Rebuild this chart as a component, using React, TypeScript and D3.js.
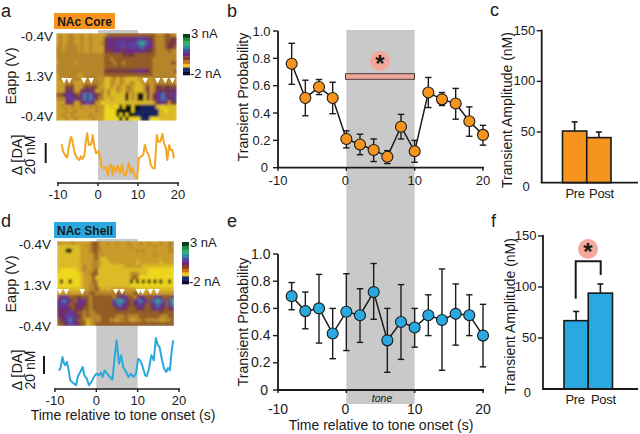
import React from "react";
import * as d3 from "d3";

const FONT = "'Liberation Sans', Arial, sans-serif";
const ORANGE = "#f7941d";
const BLUE = "#29a9e0";
const GREY = "#c9c9c9";
const INK = "#1a1a1a";

const times = [-8, -6, -4, -2, 0, 2, 4, 6, 8, 10, 12, 14, 16, 18, 20];
const coreMean = [0.76, 0.51, 0.59, 0.51, 0.21, 0.17, 0.13, 0.08, 0.3, 0.12, 0.55, 0.5, 0.47, 0.34, 0.24];
const coreHi = [0.91, 0.64, 0.645, 0.625, 0.27, 0.245, 0.21, 0.125, 0.39, 0.2, 0.66, 0.55, 0.58, 0.445, 0.31];
const coreLo = [0.61, 0.38, 0.535, 0.395, 0.145, 0.095, 0.045, 0.03, 0.21, 0.04, 0.44, 0.455, 0.355, 0.23, 0.165];
const shellMean = [0.69, 0.58, 0.6, 0.415, 0.575, 0.55, 0.72, 0.365, 0.5, 0.46, 0.55, 0.515, 0.56, 0.55, 0.4];
const shellHi = [0.79, 0.72, 0.85, 0.6, 0.855, 0.745, 0.93, 0.6, 0.775, 0.6, 0.7, 0.89, 0.78, 0.7, 0.63];
const shellLo = [0.59, 0.45, 0.345, 0.23, 0.29, 0.35, 0.52, 0.13, 0.225, 0.315, 0.4, 0.145, 0.33, 0.4, 0.17];

const groups = ["Pre", "Post"];
const coreAmp = [51, 44.5];
const coreAmpErr = [60, 50];
const shellAmp = [67, 94];
const shellAmpErr = [76, 103];

const traceCoreT = [-9.1,-8.7,-8,-7.7,-7.3,-6.8,-6.5,-6.2,-5.8,-5.2,-4.7,-4.3,-3.9,-3.4,-3.1,-2.7,-2.3,-1.7,-1.3,-0.9,-0.5,0.1,0.5,0.9,1.5,2,2.5,2.8,3.3,3.6,4,4.5,4.9,5.5,6,6.5,7,7.7,8.2,8.6,9.2,9.8,10.2,10.7,11.3,11.7,12.2,12.7,13.2,13.7,14.2,14.7,15.1,15.6,16.1,16.5,17,17.3,17.8,18.2,18.6,19];
const traceCoreV = [35.7,28.3,23.3,22.7,33.3,43,41,34.3,26.7,21.7,20,23.7,21,24.3,36.7,46.7,35,35.7,45,33.3,26.7,29,23.3,13.3,11.7,12.3,5,13.3,15.7,5,13.3,8.3,14.3,6.7,15.7,5,5,16.7,6.7,11.7,5,1.7,21.7,23.3,25,35,28.3,25,15,11.7,11.7,45,38.3,38.3,46.3,36.7,31.7,20,35,30,30,21.7];
const traceShellT = [-9.1,-8.7,-8.2,-7.8,-7.5,-7.1,-6.7,-6.3,-5.7,-4.9,-4.5,-3.9,-3.3,-2.9,-2.3,-1.8,-1.2,-0.6,0,0.6,1.1,1.5,2,2.6,3.3,3.9,4.4,4.9,5.5,6,6.5,7.2,7.8,8.3,9,9.6,10.1,10.6,11.1,11.8,12.2,12.7,13.3,13.9,14.4,14.9,15.3,15.9,16.4,16.9,17.3,17.8,18.2,18.6];
const traceShellV = [16.7,18.3,30,23.3,21.7,25,16.7,6.7,4.3,1.7,10,15,20,11.7,8.3,1.7,5,10,13.3,11.7,14.3,10,16.7,13.3,10,7.3,28.3,46.7,23.3,31.7,20,15,10,13.3,10,13.3,28.3,26.7,21.7,11.7,11,17.7,31.7,26.7,49,41.7,40,26.7,18.3,15,19,16.7,35,46.7];

const coreArrows = [-8.5, -7.2, -3.5, -1.7, 11.8, 14.9, 16.8, 18.6];
const shellArrows = [-8.8, -7.3, -3.4, 4.7, 6.2, 10.2, 11.2, 13.1, 14.7];

const heatColors: Record<string, string> = {
  k: "#08080f", n: "#17205e", Y: "#efd81f", y: "#dcbc26", l: "#c99c2c", o: "#b5852c",
  b: "#925c28", r: "#73393e", p: "#6a2a84", v: "#5a409f", t: "#3b7fab", g: "#2faa7c",
};
const colorbarColors = ["#0b3d1e", "#1f8a3c", "#2fae6a", "#2e8f9e", "#4a4fa0", "#6a2a84", "#8a3b2c", "#c8701e", "#eec520", "#1b2a72", "#0a0d3a"];

const coreHeat = [
  "lolloollol lollllobbb bbbbbbbbbb bbbooobboo",
  "lolloollol lollllrppr pppppppvvp prbooobbrr",
  "lolloollol lolllorppp vvvpvvvtgt vpbooobrrr",
  "ooloooolol lollllrppp pvvpvvvvtv ppbooobrrb",
  "ooloooolol lollllrrrp pprppppppp rrbooooboo",
  "oooooooooo oooooobbbb bbrrrrbbbb bbbooooooo",
  "oooooooooo oooooobbob bbbbbbbbbb bboooooooo",
  "looooolooo oooooobbbo bbobbbbbbb bboooooobb",
  "oooooooooo oooooobbbb bbbbbbbbbb bboooooooo",
  "oooooooooo oooooorrrr rrrrrprppp rbooooooob",
  "loooooollo oooooobbbb bbbbbbbbbb bboooooooo",
  "loloooooll ooooloyylo yolyyyylll lloooooooo",
  "lllooolllo olooolyyol yolyloyylo oloooooooo",
  "lllrbrlllb rbrbllyyoy olyoolyyyo rlorrbrrbr",
  "lllrprllrp rprlloyoyy olyoolyyyo rlorprrprp",
  "bbrpvprbpt vtprboyoyy yyykyoykky rlrpvtprvp",
  "ooopvvprpt vtvrooyyly yyykyoykky rlrpvtvprv",
  "lllrprllrp vprllYyyyy yyyyyyyyyy yylrpprlrr",
  "llollollol lololoYYyY YkYkkYkknn nnnyyYyyyy",
  "lllollolll lllollYYYY kkkkkYknnn nnnnyyYyyy",
  "llollollll lollllYYYY kYkYkknnnn nnnnyyyyyy",
  "lllollolll llolllYYYY YkYkYYYYnn nYYYyyyyyy",
];
const shellHeat = [
  "ollllollll lobbolloll olllolllol lolllolloo",
  "yyyyyyyyll lobbolllll lllllollll lllollllol",
  "yyykkyyyll lobbolllll lllllllolo lllllllloo",
  "yyyyyyyyll lloblollll llllllllll lllollllll",
  "yyyyyyyyll lloblyylll llllllllll llllllllll",
  "yyyyyyyyll lloolyyyll lllllllyll lllllyllll",
  "yyyyyyyylo lloolyyyyy yyylllllly yyyyyyyyyy",
  "yYYYYYYylo llobyyyyyy yyyyyyyyyy yYYYYYYYYY",
  "YYYYYYYYyl lobbyyyyyy yyyyyoooyy yYYYYYYYYY",
  "YYYYYYYYyl llbyyyyyyy yyyyyoboYY YYYYYYYYYY",
  "YkYYkYYYyl llboyyyyyy yyyyykYkYk YkYkYkYYkY",
  "YYYYYYYYyl loobyyyyyy yyyyyYYYYY YYYYYYYYYY",
  "yyyyyyyyyl looboylyll lllllllyyy yyyyyyyyyy",
  "lllllllllo obbooooooo bbbooobbll lollllllll",
  "bpppbbbrbb bobbbbbbbo bpvpbbobpp bbbpvpbbbp",
  "pvtvpbbpvp bobbbbbbbv tgtvrbpvtv pbvtgtvbvg",
  "pvvpbbrppr bobbbbbbbp vtvprbrpvp bbpvtvpbvt",
  "rppprbrprb bobbbbbbbb rpprbbbrpr bbrpvprbrp",
  "pprpvprbbo boobbbbbbb bbbbbbbbbb bbbbbrbbbb",
  "rppvvvprbo boooobbbbb oooboooobb bbbbbooobb",
  "brpvtvpbbo ylooobbboo loobolloob ooooolloob",
  "bbrpvvprbb ylobbbbbbb bbbbbbbbbb bbbbbbbbbb",
];

const Txt = ({ x, y, size = 13, anchor = "start", rotate, weight, italic, fill = INK, children, ls }: any) => (
  <text
    x={x}
    y={y}
    fontSize={size}
    textAnchor={anchor}
    fontWeight={weight}
    fontStyle={italic ? "italic" : undefined}
    fill={fill}
    letterSpacing={ls}
    transform={rotate ? `rotate(${rotate} ${x} ${y})` : undefined}
  >
    {children}
  </text>
);

function Heatmap({ rows, x0, x1, y0, y1, id }: any) {
  const clean: string[] = rows.map((r: string) => r.replace(/ /g, ""));
  const xb = d3.scaleBand<number>().domain(d3.range(40)).range([x0, x1]);
  const yb = d3.scaleBand<number>().domain(d3.range(clean.length)).range([y0, y1]);
  return (
    <g>
      <defs>
        <filter id={id} x="-2%" y="-2%" width="104%" height="104%">
          <feGaussianBlur stdDeviation="1" />
        </filter>
        <clipPath id={id + "c"}>
          <rect x={x0} y={y0} width={x1 - x0} height={y1 - y0} />
        </clipPath>
      </defs>
      <g clipPath={`url(#${id}c)`}>
        <g filter={`url(#${id})`}>
          <rect x={x0} y={y0} width={x1 - x0} height={y1 - y0} fill={heatColors.o} />
          {clean.map((r, j) =>
            r.split("").map((c, i) =>
              i < 40 ? (
                <rect key={`${j}-${i}`} x={xb(i)} y={yb(j)} width={xb.bandwidth() + 0.4} height={yb.bandwidth() + 0.4} fill={heatColors[c]} />
              ) : null
            )
          )}
        </g>
      </g>
    </g>
  );
}

function Colorbar({ x, y0, y1, top, bottom }: any) {
  const yb = d3.scaleBand<number>().domain(d3.range(colorbarColors.length)).range([y0, y1]);
  return (
    <g>
      {colorbarColors.map((c, i) => (
        <rect key={i} x={x} y={yb(i)} width={7} height={yb.bandwidth() + 0.3} fill={c} />
      ))}
      <Txt x={x + 8} y={top} size={13}>3 nA</Txt>
      <Txt x={x + 7} y={bottom} size={13}>-2 nA</Txt>
    </g>
  );
}

function TracePanel({ t, v, color, x0, x1, base, arrows, arrowY, greyTop, greyBottom, axisY }: any) {
  const x = d3.scaleLinear().domain([-10, 20]).range([x0, x1]);
  const y = d3.scaleLinear().domain([0, 50]).range([base, base - 50]);
  const line = d3.line<number>().x((_, i) => x(t[i])).y((d) => y(d)).curve(d3.curveLinear);
  return {
    grey: <rect x={x(0)} y={greyTop} width={x(10) - x(0)} height={greyBottom - greyTop} fill={GREY} />,
    front: (
      <g>
        {arrows.map((a: number, i: number) => (
          <path key={i} d={d3.line()([[x(a) - 2.8, arrowY], [x(a) + 2.8, arrowY], [x(a), arrowY + 5.5]]) + "Z"} fill="#fff" />
        ))}
        <path d={line(v) || ""} fill="none" stroke={color} strokeWidth={2} strokeLinejoin="round" />
        <line x1={x(-10) - 1} x2={x(20) + 1} y1={axisY} y2={axisY} stroke={INK} strokeWidth={1.6} />
        {[-10, 0, 10, 20].map((tk) => (
          <g key={tk}>
            <line x1={x(tk)} x2={x(tk)} y1={axisY} y2={axisY + 3} stroke={INK} strokeWidth={1.4} />
            <Txt x={x(tk)} y={axisY + 16} anchor="middle" size={13}>{tk}</Txt>
          </g>
        ))}
      </g>
    ),
  };
}

function ProbPanel({ mean, hi, lo, fill, yTop, yBottom, labelSize, xLabelOffset }: any) {
  const x = d3.scaleLinear().domain([-10, 20]).range([278, 483]);
  const y = d3.scaleLinear().domain([0, 1]).range([yBottom, yTop]);
  const line = d3.line<number>().x((_, i) => x(times[i])).y((d) => y(d));
  const yTicks = [0, 0.2, 0.4, 0.6, 0.8, 1];
  return (
    <g>
      <line x1={x(-10)} x2={x(-10)} y1={y(1)} y2={y(0)} stroke={INK} strokeWidth={1.8} />
      <line x1={x(-10) - 1} x2={x(20) + 1} y1={y(0)} y2={y(0)} stroke={INK} strokeWidth={1.8} />
      {yTicks.map((tk) => (
        <g key={tk}>
          <line x1={x(-10) - 5} x2={x(-10)} y1={y(tk)} y2={y(tk)} stroke={INK} strokeWidth={1.4} />
          <Txt x={x(-10) - (tk === 0 ? 10 : 7.5)} y={y(tk) + 4.5} anchor="end" size={labelSize}>{tk === 0 ? "0" : tk === 1 ? "1.0" : tk.toFixed(1)}</Txt>
        </g>
      ))}
      {[-10, 0, 10, 20].map((tk) => (
        <g key={tk}>
          <line x1={x(tk)} x2={x(tk)} y1={y(0)} y2={y(0) + 3} stroke={INK} strokeWidth={1.4} />
          <Txt x={x(tk) - (tk === 0 ? 1 : 0)} y={y(0) + xLabelOffset} anchor="middle" size={labelSize}>{tk}</Txt>
        </g>
      ))}
      <path d={line(mean) || ""} fill="none" stroke={INK} strokeWidth={1.5} />
      {times.map((t, i) => (
        <g key={t} stroke={INK} strokeWidth={1.4}>
          <line x1={x(t)} x2={x(t)} y1={y(hi[i])} y2={y(lo[i])} />
          <line x1={x(t) - 3.2} x2={x(t) + 3.2} y1={y(hi[i])} y2={y(hi[i])} />
          <line x1={x(t) - 3.2} x2={x(t) + 3.2} y1={y(lo[i])} y2={y(lo[i])} />
        </g>
      ))}
      {times.map((t, i) => (
        <circle key={t} cx={x(t)} cy={y(mean[i])} r={5.5} fill={fill} stroke={INK} strokeWidth={1.1} />
      ))}
    </g>
  );
}

function BarPanel({ vals, errs, fill, xAxis, barL, barR, yTop, yBottom, labelY, labelShift }: any) {
  const x = d3.scaleBand<string>().domain(groups).range([barL, barR]);
  const y = d3.scaleLinear().domain([0, 150]).range([yBottom, yTop]);
  return (
    <g>
      {groups.map((g, i) => (
        <g key={g}>
          <line x1={x(g)! + x.bandwidth() / 2} x2={x(g)! + x.bandwidth() / 2} y1={y(errs[i])} y2={y(vals[i])} stroke={INK} strokeWidth={1.6} />
          <line x1={x(g)! + x.bandwidth() / 2 - 3} x2={x(g)! + x.bandwidth() / 2 + 3} y1={y(errs[i])} y2={y(errs[i])} stroke={INK} strokeWidth={1.6} />
          <rect x={x(g)} y={y(vals[i])} width={x.bandwidth()} height={y(0) - y(vals[i])} fill={fill} stroke={INK} strokeWidth={1.6} />
          <Txt x={x(g)! + x.bandwidth() / 2 + labelShift[i]} y={labelY} anchor="middle" size={13} ls={-0.3}>{g}</Txt>
        </g>
      ))}
      <line x1={xAxis} x2={xAxis} y1={y(150) - 1} y2={y(0)} stroke={INK} strokeWidth={1.8} />
      <line x1={xAxis - 1} x2={638} y1={y(0)} y2={y(0)} stroke={INK} strokeWidth={1.8} />
      {[0, 50, 100, 150].map((tk) => (
        <g key={tk}>
          {tk > 0 && <line x1={xAxis - 5} x2={xAxis} y1={y(tk)} y2={y(tk)} stroke={INK} strokeWidth={1.4} />}
          <Txt x={xAxis - (tk === 0 ? 12 : 6.5)} y={y(tk) + (tk === 0 ? 8 : 4)} anchor="end" size={13}>{tk}</Txt>
        </g>
      ))}
    </g>
  );
}

const Star = ({ cx, cy }: any) => (
  <g>
    <circle cx={cx} cy={cy} r={10} fill="#f4a79b" />
    <text x={cx} y={cy + 11} textAnchor="middle" fontSize={24} fontWeight="bold" fill={INK}>*</text>
  </g>
);

export default function App() {
  const A = TracePanel({ t: traceCoreT, v: traceCoreV, color: "#f5a623", x0: 58, x1: 178, base: 180, arrows: coreArrows, arrowY: 78, greyTop: 30, greyBottom: 180, axisY: 183 });
  const D = TracePanel({ t: traceShellT, v: traceShellV, color: "#2aa9dc", x0: 55, x1: 179, base: 387, arrows: shellArrows, arrowY: 289, greyTop: 239, greyBottom: 389, axisY: 389 });
  const xb = d3.scaleLinear().domain([-10, 20]).range([278, 483]);
  return (
    <svg width={640} height={434} viewBox="0 0 640 434" style={{ position: "absolute", left: 0, top: 0, background: "#fff" }} fontFamily={FONT}>
      {/* shared grey band */}
      <rect x={xb(0)} y={30} width={xb(10) - xb(0)} height={374} fill={GREY} />

      {/* Panel a */}
      <Txt x={1} y={16.5} size={18}>a</Txt>
      {A.grey}
      <rect x={54} y={13} width={61} height={16} fill={ORANGE} />
      <Txt x={84.5} y={25.5} anchor="middle" size={12} weight="bold">NAc Core</Txt>
      <Heatmap rows={coreHeat} x0={56} x1={176.7} y0={33} y1={120.7} id="ha" />
      {A.front}
      <Colorbar x={183} y0={34} y1={75} top={38} bottom={78} />
      <Txt x={53} y={41} anchor="end" size={13.5}>-0.4V</Txt>
      <Txt x={53} y={81} anchor="end" size={13.5}>1.3V</Txt>
      <Txt x={53} y={121} anchor="end" size={13.5}>-0.4V</Txt>
      <Txt x={16} y={76} anchor="middle" size={14.5} rotate={-90}>Eapp (V)</Txt>
      <Txt x={21.5} y={155} anchor="middle" size={14.5} rotate={-90}>Δ [DA]</Txt>
      <Txt x={35} y={155} anchor="middle" size={14} rotate={-90}>20 nM</Txt>
      <line x1={45.7} x2={45.7} y1={143} y2={163} stroke={INK} strokeWidth={2} />

      {/* Panel d */}
      <Txt x={1} y={227} size={18}>d</Txt>
      {D.grey}
      <rect x={54} y={222} width={62} height={16} fill={BLUE} />
      <Txt x={85} y={234.5} anchor="middle" size={12} weight="bold">NAc Shell</Txt>
      <Heatmap rows={shellHeat} x0={57} x1={174} y0={241} y1={326} id="hd" />
      {D.front}
      <Colorbar x={182} y0={242} y1={284} top={247} bottom={286} />
      <Txt x={51} y={249} anchor="end" size={13.5}>-0.4V</Txt>
      <Txt x={51} y={290} anchor="end" size={13.5}>1.3V</Txt>
      <Txt x={51} y={331} anchor="end" size={13.5}>-0.4V</Txt>
      <Txt x={16} y={284} anchor="middle" size={14.5} rotate={-90}>Eapp (V)</Txt>
      <Txt x={21.5} y={370} anchor="middle" size={14.5} rotate={-90}>Δ [DA]</Txt>
      <Txt x={35} y={370} anchor="middle" size={14} rotate={-90}>20 nM</Txt>
      <line x1={44} x2={44} y1={356} y2={374} stroke={INK} strokeWidth={2} />
      <Txt x={123} y={420} anchor="middle" size={14}>Time relative to tone onset (s)</Txt>

      {/* Panel b */}
      <Txt x={227} y={16.5} size={18}>b</Txt>
      <rect x={345.5} y={73.7} width={69} height={5.6} fill="#f0a79b" stroke="#4a3a38" strokeWidth={1} />
      <Star cx={380} cy={61} />
      <ProbPanel mean={coreMean} hi={coreHi} lo={coreLo} fill={ORANGE} yTop={31} yBottom={167.7} labelSize={13} xLabelOffset={17.5} />
      <Txt x={248} y={97} anchor="middle" size={14.2} rotate={-90}>Transient Probability</Txt>

      {/* Panel e */}
      <Txt x={227} y={227} size={18}>e</Txt>
      <ProbPanel mean={shellMean} hi={shellHi} lo={shellLo} fill={BLUE} yTop={254} yBottom={390} labelSize={14} xLabelOffset={23.5} />
      <Txt x={248} y={322} anchor="middle" size={14.2} rotate={-90}>Transient Probability</Txt>
      <Txt x={382} y={402} anchor="middle" size={10.5} italic>tone</Txt>
      <Txt x={381} y={430} anchor="middle" size={14}>Time relative to tone onset (s)</Txt>

      {/* Panel c */}
      <Txt x={490} y={16} size={18}>c</Txt>
      <BarPanel vals={coreAmp} errs={coreAmpErr} fill={ORANGE} xAxis={541.7} barL={562.5} barR={611} yTop={30.7} yBottom={182.7} labelY={198} labelShift={[0.5, 2.6]} />
      <Txt x={511.5} y={110} anchor="middle" size={14} rotate={-90}>Transient Amplitude (nM)</Txt>

      {/* Panel f */}
      <Txt x={491} y={227} size={18}>f</Txt>
      <BarPanel vals={shellAmp} errs={shellAmpErr} fill={BLUE} xAxis={543} barL={564} barR={612.5} yTop={236} yBottom={389} labelY={403.7} labelShift={[-1, 3]} />
      <path d={d3.line()([[575.7, 298.7], [575.7, 261.3], [600.7, 261.3], [600.7, 275]]) || ""} fill="none" stroke={INK} strokeWidth={2} />
      <Star cx={588} cy={249} />
      <Txt x={515} y={316} anchor="middle" size={14} rotate={-90}>Transient Amplitude (nM)</Txt>
    </svg>
  );
}
